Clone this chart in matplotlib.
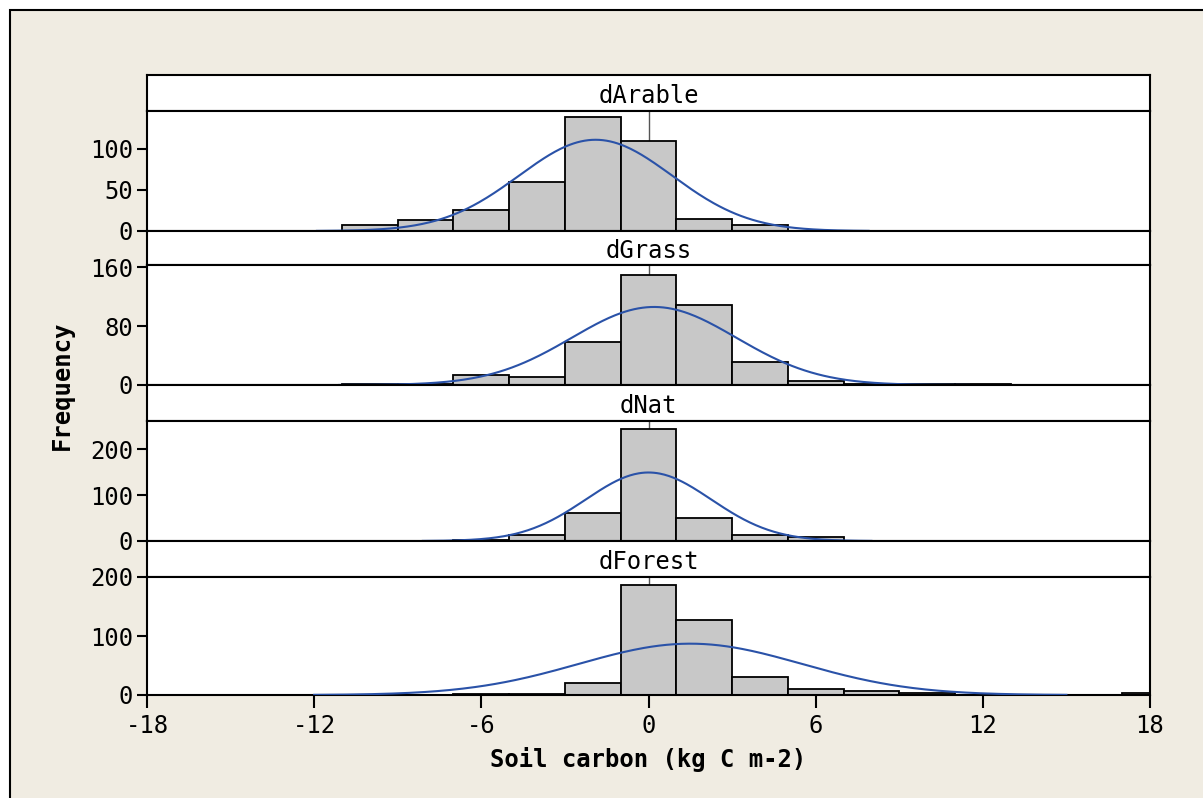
import numpy as np
import matplotlib
matplotlib.use("Agg")
import matplotlib.pyplot as plt
from matplotlib.patches import Rectangle

# bins of width 2, centred on even numbers
bin_centers = np.arange(-16, 19, 2)

panel_names = ["dArable", "dGrass", "dNat", "dForest"]

#                -16 -14 -12 -10 -8  -6  -4   -2    0    2   4   6  8 10 12 14 16 18
arable_counts = [0,  0,  0,  7,  13, 25, 60,  139, 109, 15, 7,  0, 0, 0, 0, 0, 0, 0]
grass_counts  = [0,  0,  0,  2,  2,  13, 11,  58,  149, 109, 31, 5, 2, 1, 1, 0, 0, 0]
nat_counts    = [0,  0,  0,  0,  0,  3,  14,  61,  243, 49, 13, 9, 0, 0, 0, 0, 0, 0]
forest_counts = [0,  0,  0,  0,  0,  1,  2,   21,  186, 127, 31, 11, 7, 3, 0, 0, 0, 3]

# fitted normal curve: mean, sd, peak height, drawn range
curve_mean = [-1.9, 0.2, 0.0, 1.5]
curve_sd = [2.75, 2.95, 2.25, 4.0]
curve_peak = [111, 106, 149, 87]
curve_lo = [-11.9, -11.1, -8.1, -12.0]
curve_hi = [7.9, 11.5, 8.0, 15.0]

y_ticks = [[0, 50, 100], [0, 80, 160], [0, 100, 200], [0, 100, 200]]
y_tops = [146, 163, 261, 200]
x_ticks = [-18, -12, -6, 0, 6, 12, 18]

all_counts = [arable_counts, grass_counts, nat_counts, forest_counts]

W, H = 1203, 798
bg = "#f0ece2"
bar_col = "#c8c8c8"
line_col = "#2a52a8"
font = "DejaVu Sans Mono"
fs = 17.2

plt.rcParams["font.family"] = font
plt.rcParams["axes.unicode_minus"] = False

fig = plt.figure(figsize=(W / 100, H / 100), dpi=100)
fig.patch.set_facecolor("white")
fig.patches.append(Rectangle((10 / W, -0.1), 1.2, 1 - 10 / H + 0.1,
                             transform=fig.transFigure, facecolor=bg,
                             edgecolor="black", linewidth=1.5, zorder=-10))

x0, x1 = 147, 1150
# (strip top, panel top, panel bottom) in pixels
rows = [(75, 111, 231), (231, 265, 385), (385, 421, 541), (541, 577, 695)]


def fig_rect(top, bottom):
    return [x0 / W, 1 - bottom / H, (x1 - x0) / W, (bottom - top) / H]


for i, (st, pt, pb) in enumerate(rows):
    # strip with panel name
    sax = fig.add_axes(fig_rect(st, pt))
    sax.set_xticks([])
    sax.set_yticks([])
    for s in sax.spines.values():
        s.set_linewidth(1.5)
    sax.text(0.5, 0.42, panel_names[i], ha="center", va="center",
             fontsize=fs, transform=sax.transAxes)

    ax = fig.add_axes(fig_rect(pt, pb))
    ax.axvline(0, color="#555555", lw=1.0, zorder=1)
    ax.bar(bin_centers, all_counts[i], width=2, color=bar_col,
           edgecolor="black", linewidth=1.3, zorder=2)
    xs = np.linspace(curve_lo[i], curve_hi[i], 300)
    ys = curve_peak[i] * np.exp(-0.5 * ((xs - curve_mean[i]) / curve_sd[i]) ** 2)
    ax.plot(xs, ys, color=line_col, lw=1.5, zorder=3)

    ax.set_xlim(-18, 18)
    ax.set_ylim(0, y_tops[i])
    ax.set_yticks(y_ticks[i])
    ax.tick_params(axis="y", direction="out", length=7, width=1.5,
                   labelsize=fs, pad=3)
    for s in ax.spines.values():
        s.set_linewidth(1.5)
    if i < 3:
        ax.set_xticks([])
    else:
        ax.set_xticks(x_ticks)
        ax.tick_params(axis="x", direction="out", length=9, width=1.5,
                       labelsize=fs, pad=5)

fig.text(62 / W, 1 - 385 / H, "Frequency", rotation=90, ha="center",
         va="center", fontsize=fs, fontweight="bold")
fig.text((x0 + x1) / 2 / W, 1 - 760 / H, "Soil carbon (kg C m-2)",
         ha="center", va="center", fontsize=fs, fontweight="bold")

fig.savefig("out.png", dpi=100, facecolor=fig.get_facecolor())
